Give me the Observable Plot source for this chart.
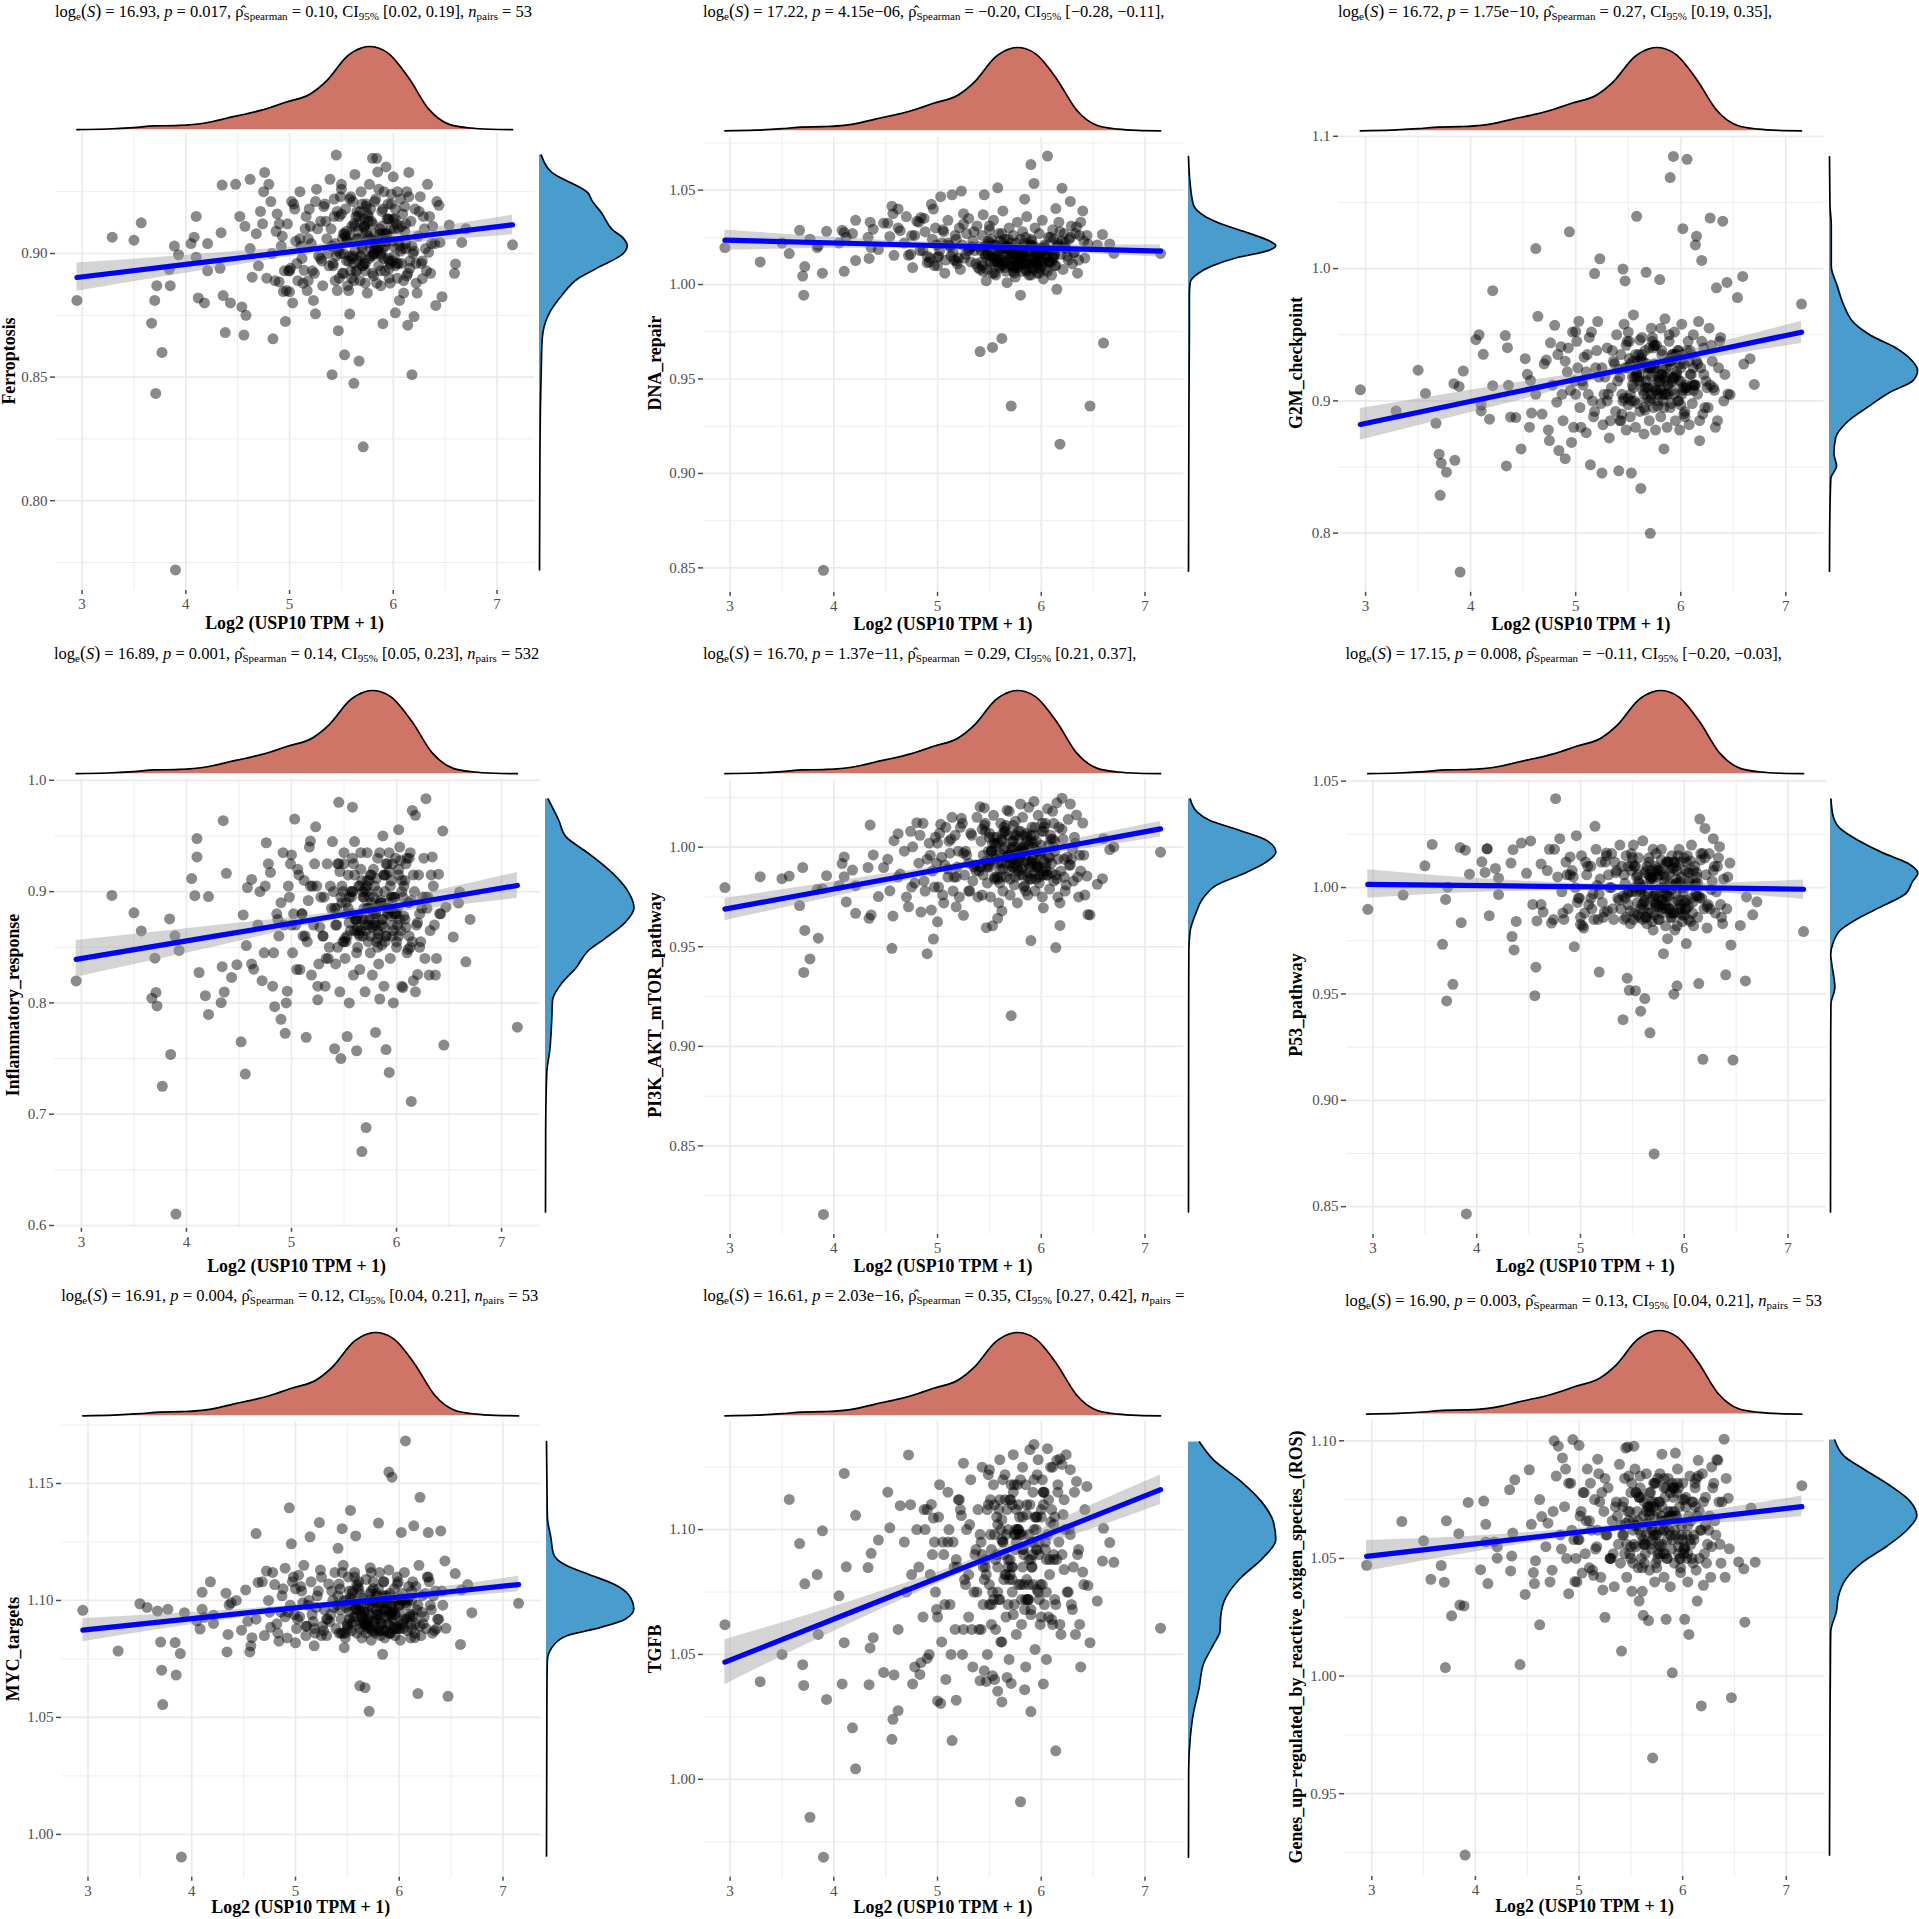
<!DOCTYPE html>
<html>
<head>
<meta charset="utf-8">
<script src="https://cdn.jsdelivr.net/npm/d3@7"></script>
<script src="https://cdn.jsdelivr.net/npm/@observablehq/plot@0.6"></script>
<style>
  body { margin: 0; background: #fff; }
  #page { position: relative; width: 1919px; height: 1919px; overflow: hidden; font-family: "Liberation Serif", serif; color: #000; }
  .ttl { position: absolute; white-space: nowrap; font-size: 16.5px; line-height: 1; transform: translateY(-50%); }
  .ttl sub { font-size: 11px; vertical-align: -3px; line-height: 0; }
  .ttl .par { font-size: 18px; line-height: 0; }
  .axt { position: absolute; white-space: nowrap; font-weight: bold; font-size: 17.9px; line-height: 1; }
</style>
</head>
<body>
<div id="page"></div>
<script>
const names = ["Ferroptosis", "DNA_repair", "G2M_checkpoint", "Inflammatory_response", "PI3K_AKT_mTOR_pathway", "P53_pathway", "MYC_targets", "TGFB", "Genes_up−regulated_by_reactive_oxigen_species_(ROS)"];
const logS = ["16.93", "17.22", "16.72", "16.89", "16.70", "17.15", "16.91", "16.61", "16.90"];
const pval = ["0.017", "4.15e−06", "1.75e−10", "0.001", "1.37e−11", "0.008", "0.004", "2.03e−16", "0.003"];
const rho = ["0.10", "−0.20", "0.27", "0.14", "0.29", "−0.11", "0.12", "0.35", "0.13"];
const rhoCI = ["[0.02, 0.19]", "[−0.28, −0.11]", "[0.19, 0.35]", "[0.05, 0.23]", "[0.21, 0.37]", "[−0.20, −0.03]", "[0.04, 0.21]", "[0.27, 0.42]", "[0.04, 0.21]"];
const npairs = ["= 53", null, null, "= 532", null, null, "= 53", "=", "= 53"];

const xTicks = [3, 4, 5, 6, 7];
const xMinor = [3.5, 4.5, 5.5, 6.5];
const yTicks = [[0.8, 0.85, 0.9], [0.85, 0.9, 0.95, 1, 1.05], [0.8, 0.9, 1, 1.1], [0.6, 0.7, 0.8, 0.9, 1], [0.85, 0.9, 0.95, 1], [0.85, 0.9, 0.95, 1, 1.05], [1, 1.05, 1.1, 1.15], [1, 1.05, 1.1], [0.95, 1, 1.05, 1.1]];
const yMinor = [[0.775, 0.825, 0.875, 0.925], [0.875, 0.925, 0.975, 1.025, 1.075], [0.85, 0.95, 1.05], [0.65, 0.75, 0.85, 0.95], [0.825, 0.875, 0.925, 0.975, 1.025], [0.875, 0.925, 0.975, 1.025], [1.025, 1.075, 1.125, 1.175], [0.975, 1.025, 1.075, 1.125], [0.925, 0.975, 1.025, 1.075]];
const yFormat = [".2f", ".2f", ".1f", ".1f", ".2f", ".2f", ".2f", ".2f", ".2f"];

// USP10 expression, same samples in every panel
const usp10 = [
2.95,3.29,3.50,3.57,3.67,3.70,3.71,3.72,3.77,3.84,3.85,3.89,3.90,3.93,4.05,4.08,4.10,4.10,4.12,4.18,
4.21,4.21,4.33,4.34,4.35,4.36,4.38,4.43,4.48,4.52,4.54,4.56,4.57,4.58,4.62,4.64,4.72,4.76,4.80,4.84,
4.90,4.94,4.96,5.00,5.03,5.14,5.18,5.23,5.25,5.41,5.45,5.47,5.53,5.58,5.62,5.67,5.71,5.80,5.84,5.90,
5.93,6.02,6.06,6.14,6.15,6.18,6.20,6.28,6.34,6.40,6.44,6.45,6.47,6.54,6.59,6.60,6.66,6.70,7.15,
4.62,4.68,4.70,4.74,4.78,4.82,4.86,4.88,4.92,4.95,4.98,5.01,5.04,5.06,5.08,5.10,5.12,5.15,5.17,5.19,
5.21,5.24,5.26,5.28,5.30,5.32,5.34,5.36,5.38,5.39,5.40,5.42,5.43,5.44,5.46,5.48,5.49,5.50,5.51,5.52,
5.54,5.55,5.56,5.57,5.59,5.60,5.61,5.63,5.64,5.65,5.66,5.68,5.69,5.70,5.72,5.73,5.74,5.75,5.76,5.77,
5.78,5.79,5.81,5.82,5.83,5.85,5.86,5.87,5.88,5.89,5.90,5.91,5.92,5.94,5.95,5.96,5.97,5.98,5.99,6.00,
6.01,6.03,6.04,6.05,6.07,6.08,6.09,6.10,6.11,6.12,6.13,6.16,6.17,6.19,6.21,6.22,6.24,6.26,6.27,6.30,
6.32,6.35,6.37,6.42,5.45,5.50,5.55,5.60,5.65,5.70,5.75,5.80,5.85,5.90,5.95,6.00,6.05,5.62,5.72,5.82,
5.92,6.02,5.68,5.78,5.30,5.20,5.10,5.00,4.90,5.88,5.74,5.58,5.96,6.12,6.22,
5.42,5.47,5.52,5.57,5.62,5.67,5.72,5.77,5.82,5.87,5.92,5.97,6.02,6.07,6.12,5.44,5.49,5.54,5.59,5.64,
5.69,5.74,5.79,5.84,5.89,5.94,5.99,6.04,6.09,6.14,5.46,5.51,5.56,5.61,5.66,5.71,5.76,5.81,5.86,5.91,
5.96,6.01,6.06,6.11,6.16,5.43,5.48,5.53,5.58,5.63,5.68,5.73,5.78,5.83,5.88,5.93,5.98,6.03,6.08,6.13,
5.41,5.50,5.60,5.70,5.80,5.90,6.00,6.10,6.20,6.25,5.33,5.37,5.27,5.22,5.16,5.11,5.07,5.02,4.97,4.93,
5.35,5.31,5.25,5.18,5.13,5.05,4.99,4.87,4.83,4.75,6.23,6.29,6.31,6.33,6.36,6.38,6.41,6.18,6.15,6.28,
5.55,5.65,5.75,5.85,5.95,6.05,5.63,5.73,5.83,5.93,5.52,5.62,5.72,5.82,5.92,6.02,5.68,5.78,5.88,5.98,
5.58,5.66,5.76,5.86,5.96,5.72,5.82,5.90,5.80,5.70];

const ferroptosis = [
.881,.9066,.9054,.9124,.8718,.881,.8434,.887,.860,.8936,.887,.903,.772,.8995,.904,.9066,.8985,.915,.882,.880,
.893,.904,.894,.9084,.9277,.883,.868,.880,.928,.915,.8784,.867,.911,.875,.930,.8904,.917,.9328,.928,.8655,
.8885,.8846,.8725,.8845,.880,.8932,.889,.881,.8756,.851,.9398,.8688,.859,.8755,.8475,.8565,.8218,.9385,.9385,.8716,
.935,.876,.881,.871,.9328,.851,.8745,.8898,.9005,.904,.9195,.9045,.8825,.9115,.892,.8958,.9045,.910,.9035,
.902,.908,.895,.912,.890,.921,.889,.916,.903,.893,.912,.894,.920,.905,.889,.925,.898,.910,.885,.918,
.904,.892,.926,.899,.913,.887,.920,.906,.895,.930,.910,.896,.922,.904,.885,.915,.900,.928,.892,.908,
.918,.897,.905,.885,.923,.911,.899,.932,.893,.906,.915,.889,.925,.902,.910,.896,.919,.884,.907,.928,
.899,.913,.891,.921,.905,.933,.895,.910,.887,.917,.902,.925,.893,.908,.914,.897,.888,.920,.905,.931,
.899,.912,.890,.905,.922,.896,.916,.884,.909,.902,.925,.894,.913,.900,.918,.888,.907,.923,.896,.910,
.893,.915,.904,.921,.899,.926,.905,.890,.917,.903,.906,.912,.901,.908,.898,.903,.910,.896,.914,.900,
.908,.895,.917,.902,.898,.911,.906,.893,.912,.900,.909,.899,.914,.904,.896,.895,.901,.892,.897,.889,
.906,.911,.898,.902,.908,
.905,.896,.918,.901,.912,.889,.923,.907,.893,.915,.899,.920,.904,.888,.911,.914,.897,.925,.902,.892,
.917,.906,.887,.921,.909,.895,.913,.900,.926,.898,.894,.910,.903,.919,.897,.915,.890,.908,.922,.901,
.913,.893,.918,.905,.899,.908,.924,.896,.911,.891,.903,.916,.898,.920,.892,.906,.914,.889,.901,.917,
.919,.900,.910,.893,.915,.903,.896,.921,.885,.907,.913,.897,.921,.906,.888,.918,.893,.909,.900,.925,
.884,.915,.902,.928,.892,.911,.879,.903,.923,.897,.909,.893,.916,.902,.920,.896,.911,.888,.922,.905,
.900,.912,.896,.908,.903,.914,.899,.906,.893,.910,.907,.897,.915,.902,.890,.911,.904,.918,.899,.895,
.909,.901,.913,.894,.906,.898,.910,.902,.916,.892];

const dnaRepair = [
1.0196,1.012,1.022,1.0164,1.0287,1.0045,.9944,1.0095,1.024,1.0196,1.0207,1.006,.8487,1.0282,1.022,1.0287,1.007,1.0276,1.025,1.027,
1.034,1.0127,1.025,1.0138,1.033,1.0196,1.0293,1.0185,1.0325,1.0325,1.0255,1.0415,1.0375,1.0155,1.04,1.0285,1.0155,1.009,1.0335,1.0355,
1.0115,1.0425,1.04,1.0145,1.0465,1.0475,1.0125,1.0495,1.0375,.9645,1.0475,1.002,.9667,1.0512,.9715,1.001,.9357,.9944,1.0452,1.0635,
1.0535,1.003,1.068,1.0402,.9975,.9155,1.051,1.044,1.0305,1.039,1.026,1.0215,.9357,1.021,1.0265,.969,1.0215,1.0165,1.0165,
1.030,1.022,1.036,1.016,1.026,1.033,1.018,1.028,1.012,1.024,1.030,1.015,1.022,1.028,1.013,1.034,1.020,1.017,1.026,1.011,
1.030,1.021,1.014,1.027,1.035,1.012,1.023,1.018,1.031,1.009,1.020,1.012,1.026,1.037,1.015,1.008,1.023,1.029,1.011,1.017,
1.034,1.006,1.021,1.013,1.027,1.009,1.018,1.039,1.012,1.024,1.007,1.020,1.030,1.014,1.010,1.026,1.017,1.004,1.022,1.033,
1.012,1.019,1.007,1.028,1.015,1.011,1.036,1.021,1.005,1.017,1.024,1.009,1.014,1.030,1.019,1.006,1.012,1.027,1.016,1.010,
1.034,1.021,1.008,1.015,1.025,1.012,1.018,1.005,1.029,1.014,1.010,1.022,1.033,1.016,1.008,1.027,1.019,1.013,1.024,1.011,
1.017,1.006,1.026,1.014,1.020,1.031,1.012,1.023,1.009,1.018,1.015,1.024,1.008,1.021,1.016,1.013,1.019,1.011,1.017,1.014,
1.020,1.012,1.016,1.009,1.018,1.014,1.022,1.010,1.015,1.019,1.013,1.017,1.011,1.016,1.020,1.018,1.021,1.024,1.015,1.027,
1.012,1.016,1.010,1.018,1.014,
1.014,1.009,1.019,1.012,1.024,1.007,1.016,1.021,1.010,1.013,1.018,1.006,1.015,1.022,1.011,1.020,1.008,1.014,1.025,1.010,
1.016,1.012,1.005,1.019,1.013,1.022,1.009,1.017,1.011,1.023,1.011,1.018,1.007,1.014,1.021,1.010,1.016,1.006,1.013,1.019,
1.024,1.009,1.015,1.011,1.018,1.013,1.006,1.020,1.012,1.016,1.008,1.022,1.014,1.010,1.017,1.005,1.019,1.012,1.023,1.015,
1.020,1.011,1.016,1.008,1.013,1.021,1.006,1.018,1.010,1.014,1.028,1.019,1.032,1.024,1.015,1.029,1.021,1.035,1.018,1.026,
1.022,1.031,1.017,1.027,1.013,1.033,1.023,1.028,1.020,1.025,1.014,1.020,1.009,1.025,1.012,1.018,1.022,1.007,1.016,1.011,
1.015,1.010,1.018,1.013,1.008,1.016,1.020,1.012,1.009,1.017,1.012,1.019,1.014,1.007,1.016,1.010,1.015,1.021,1.011,1.018,
1.013,1.009,1.017,1.012,1.015,1.010,1.019,1.014,1.008,1.016];

const g2m = [
.9084,.8924,.9232,.9056,.8831,.8597,.8286,.8529,.8461,.913,.8551,.9109,.7706,.9226,.9463,.95,.8924,.897,.9352,.8862,
.9833,.9115,.9494,.8508,.9402,.9118,.8878,.8874,.8637,.9319,.9201,.8801,.9155,.8908,1.0151,.9639,.9309,.9439,.9571,.8625,
.8563,1.0278,.8686,.9525,.9602,.8517,.9963,1.0074,.8455,.8471,.9997,.9907,.8455,1.0395,.8338,.9972,.7999,.9917,.8637,1.0688,
1.0848,1.0302,1.0826,1.0179,1.0244,.8699,1.0062,1.0382,.9855,1.0358,.9895,.9053,.9047,.9781,.9941,.9278,.9319,.9124,.9732,
.905,.890,.928,.878,.912,.899,.941,.885,.922,.908,.880,.945,.895,.915,.933,.876,.905,.952,.888,.925,
.960,.898,.882,.918,.940,.872,.910,.930,.892,.950,.915,.885,.935,.905,.958,.878,.925,.897,.945,.888,
.912,.965,.900,.880,.930,.918,.892,.948,.908,.875,.938,.902,.920,.885,.955,.910,.895,.928,.878,.942,
.905,.918,.888,.935,.900,.962,.925,.880,.912,.945,.895,.930,.908,.952,.885,.922,.938,.900,.878,.915,
.958,.928,.892,.910,.945,.882,.920,.935,.898,.950,.912,.905,.960,.925,.890,.940,.915,.895,.955,.930,
.908,.885,.945,.920,.900,.952,.910,.935,.895,.925,.942,.915,.905,.930,.918,.925,.910,.932,.902,.920,
.935,.908,.928,.915,.900,.938,.922,.905,.930,.912,.925,.918,.935,.908,.920,.918,.925,.905,.935,.930,
.915,.925,.908,.938,.920,
.915,.900,.935,.908,.925,.890,.945,.918,.898,.930,.910,.940,.920,.895,.950,.905,.928,.888,.938,.912,
.902,.932,.918,.946,.893,.925,.908,.955,.915,.898,.920,.905,.938,.912,.928,.885,.942,.900,.922,.935,
.910,.948,.896,.926,.905,.917,.938,.890,.930,.912,.924,.902,.915,.940,.908,.932,.897,.920,.945,.910,
.885,.928,.905,.918,.900,.935,.912,.925,.952,.940,.938,.905,.925,.892,.948,.880,.915,.905,.935,.870,
.895,.942,.910,.880,.925,.948,.900,.885,.930,.912,.930,.905,.942,.918,.935,.912,.925,.945,.905,.918,
.928,.915,.905,.920,.935,.910,.925,.900,.930,.915,.920,.910,.925,.905,.932,.918,.908,.927,.915,.900,
.912,.922,.905,.930,.915,.925,.910,.920,.935,.918];

const inflammatory = [
.8197,.8966,.8809,.8647,.8042,.8402,.8094,.7973,.7251,.8754,.7537,.8603,.6103,.8471,.9117,.8963,.9476,.9311,.8273,.8065,
.7896,.8955,.8002,.8325,.9637,.8098,.9164,.8229,.8343,.765,.879,.7361,.8515,.9036,.9109,.8303,.82,.9439,.9172,.7966,
.7852,.7727,.8105,.9329,.9652,.7691,.9454,.9582,.8028,.7588,.9802,.75,.7698,.9758,.757,.6664,.688,.7735,.8035,.7581,
.7375,.9556,.8138,.7115,.9729,.9685,.8255,.9835,.9311,.9157,.9545,.7621,.886,.8592,.8897,.8996,.8369,.875,.7782,
.835,.870,.900,.845,.925,.815,.880,.860,.935,.800,.895,.845,.870,.920,.830,.880,.910,.855,.940,.825,
.870,.905,.835,.895,.860,.815,.925,.850,.885,.945,.900,.835,.870,.925,.810,.890,.855,.935,.840,.880,
.915,.800,.865,.895,.825,.945,.875,.850,.905,.830,.920,.860,.885,.810,.935,.870,.895,.845,.915,.825,
.880,.905,.855,.930,.835,.890,.870,.950,.815,.900,.860,.925,.880,.840,.910,.870,.800,.895,.930,.850,
.885,.940,.865,.815,.905,.875,.925,.845,.890,.860,.935,.820,.900,.870,.915,.850,.885,.930,.840,.895,
.865,.905,.825,.880,.925,.855,.895,.915,.860,.875,.915,.870,.890,.860,.895,.880,.910,.865,.900,.850,
.885,.920,.875,.895,.860,.905,.880,.870,.890,.915,.875,.900,.860,.890,.880,.870,.895,.855,.880,.845,
.910,.885,.868,.900,.875,
.890,.865,.915,.878,.930,.850,.900,.885,.925,.862,.895,.910,.872,.935,.855,.905,.880,.928,.868,.892,
.918,.858,.900,.875,.935,.865,.890,.912,.852,.882,.925,.870,.895,.848,.915,.885,.905,.860,.930,.878,
.900,.855,.920,.888,.868,.935,.895,.875,.910,.850,.885,.925,.865,.902,.880,.915,.855,.930,.872,.895,
.840,.905,.868,.925,.892,.860,.915,.880,.905,.870,.840,.895,.815,.905,.860,.830,.925,.875,.845,.905,
.855,.885,.825,.915,.870,.840,.880,.810,.855,.895,.872,.905,.860,.892,.878,.900,.868,.885,.862,.918,
.890,.875,.905,.865,.885,.860,.895,.870,.915,.880,.900,.865,.885,.875,.895,.910,.858,.925,.882,.870,
.892,.878,.905,.862,.888,.895,.868,.900,.880,.872];

const pi3k = [
.9797,.9852,.9842,.9855,.9707,.9898,.9371,.9582,.9439,.9787,.9543,.9791,.8156,.9857,.9807,.9918,.9951,.9852,.9725,.9885,
.9668,.9807,.9898,.9643,1.0111,.966,.9961,.9752,.9898,.9939,.9781,.9492,.9654,1.0033,1.0068,.9865,.9701,1.0002,1.0123,.9674,
.9465,.9684,.9539,.9625,1.0115,1.015,.9701,1.0145,.9658,1.0203,1.0197,.9596,.9605,.9643,.968,1.0186,.9154,1.0217,.9807,.9531,
1.023,.9695,1.0193,.9496,1.0223,.9607,1.0246,1.0217,1.0162,1.0121,.9855,.9662,.966,.9814,.9842,1.0043,.9988,1.0002,.9975,
.985,.998,.975,1.008,.982,.992,1.012,.978,1.002,.988,1.005,.980,.995,.972,1.010,.985,.997,.978,1.006,.990,
.975,1.012,.986,.996,.978,1.007,.983,.991,1.015,.975,.988,1.003,.976,.996,1.012,.982,.991,1.007,.975,.998,
1.016,.984,.994,1.005,.972,.989,1.012,.978,.999,1.008,.985,.995,1.018,.976,1.003,.990,.981,1.013,.995,.972,
1.008,.986,.998,1.015,.980,.993,1.005,.976,1.020,.990,.984,1.010,.996,.978,1.003,.990,1.016,.982,.996,1.008,
.975,.993,1.012,.986,1.001,.979,1.006,.992,1.018,.983,.998,.975,1.010,.988,1.004,.994,.981,1.014,.991,.999,
1.005,.985,.996,.976,1.011,.990,1.002,.982,1.008,.995,.985,.999,.978,1.006,.992,.998,.988,1.003,.994,.990,
1.000,.986,.996,1.004,.992,.998,.989,1.002,.994,.987,1.006,.996,.991,1.000,.985,.990,.993,.998,.985,.992,
.995,1.000,.990,.999,.985,
1.002,.990,1.008,.995,1.012,.986,.998,1.005,.992,1.010,.988,1.000,.994,1.006,.984,1.010,.997,.990,1.004,.986,
1.008,.993,1.001,.985,1.011,.996,1.006,.989,1.003,.992,.998,1.012,.986,1.004,.994,1.009,.990,1.002,.984,1.007,
.996,1.011,.988,1.000,.992,1.006,.986,1.010,.995,1.003,.990,1.005,.997,.984,1.008,.993,1.001,.987,1.009,.995,
1.006,.988,.998,1.010,.985,1.003,.991,1.007,.980,.996,.990,.978,.997,.985,1.004,.976,.992,.983,1.006,.980,
.978,.994,.983,1.002,.975,.988,.996,.972,.984,.991,.985,1.000,.991,.996,.984,.992,.989,1.003,.998,.987,
.998,1.004,.990,1.000,.994,.988,1.006,.993,1.001,.985,1.002,.992,.997,1.007,.990,.999,.986,1.003,.995,.992,
.994,1.000,.988,1.005,.996,.992,1.001,.998,.990,.986];

const p53 = [
.9898,.9965,1.0102,1.0203,.9733,.9944,.9467,1.0002,.9545,1.0188,.9835,1.0176,.8466,1.0063,1.0121,1.0071,1.0182,1.0182,.9868,1.009,
.9967,1.0044,1.0115,.977,1.0178,.9707,.9841,1.0209,1.0067,1.0219,.9921,.9492,.9626,.9843,1.0111,.9885,.9833,1.0418,1.023,.985,
1.0144,.9722,1.0244,.9827,.981,1.0288,.9603,.9885,1.0163,.9379,.9574,.9517,.9515,.9419,.9478,.9317,.8748,.9689,.976,.9499,
.9538,.9737,1.0125,.9549,1.0322,.9193,1.0278,1.023,1.0192,.959,1.0115,.973,.9189,.9822,.9561,.9956,.9872,.9933,.9793,
.992,1.008,1.018,.985,1.005,.998,1.012,.990,1.008,1.000,.995,1.015,.988,1.006,.992,1.010,.997,1.018,.985,1.004,
.993,1.012,.989,1.000,1.016,.985,1.007,.995,1.020,.990,1.010,.985,1.002,1.015,.992,.983,1.008,.998,1.020,.988,
1.005,.993,1.014,.986,1.000,1.022,.990,1.008,.983,.997,1.012,.988,1.005,.980,.996,1.016,.992,1.008,.985,1.000,
1.018,.990,1.003,.982,1.012,.996,1.007,.986,1.015,.993,1.001,.980,1.010,.994,1.018,.988,1.005,.984,.998,1.014,
.990,1.007,.985,1.002,1.020,.993,.982,1.010,.997,1.005,.986,1.013,.995,.990,1.006,.981,1.016,.999,1.003,.988,
1.010,.992,.983,1.005,.997,1.014,.987,1.001,.992,1.018,.985,1.006,.990,1.012,1.002,.993,1.007,.996,1.010,.990,
1.004,.994,1.008,.988,1.000,1.012,.995,.986,1.006,.999,1.009,.990,1.003,.996,.991,1.006,.998,1.010,1.002,.994,
1.004,.997,1.008,.992,.988,
1.002,.990,1.012,.995,1.007,.986,1.016,.998,.992,1.010,.984,1.005,.994,1.012,.988,1.015,1.000,.991,1.008,.996,
1.010,.985,1.003,.993,1.014,.987,1.006,.997,.990,1.012,.992,1.008,.984,1.002,1.016,.995,.989,1.010,.999,.986,
1.005,.991,1.013,.997,.986,1.008,.994,1.015,.988,1.002,.996,1.011,.985,1.004,.992,1.009,.987,1.001,1.014,.990,
1.012,.994,1.006,.986,1.001,.990,1.010,.982,.993,1.005,1.008,.990,1.015,.997,.985,1.012,.995,1.006,.988,1.018,
.992,1.010,.998,1.014,.986,1.004,.990,1.016,.995,1.008,1.006,.988,.995,1.012,.990,1.003,.986,1.008,.996,.982,
1.000,1.007,.992,1.011,.997,.990,1.004,.994,1.009,.987,.998,1.006,.991,1.002,1.012,.993,1.005,.988,1.000,.996,
1.003,.994,1.008,.990,1.001,.997,.992,1.006,.999,1.004];

const myc = [
1.0958,1.0784,1.0986,1.097,1.0955,1.0822,1.0702,1.0555,1.0962,1.082,1.0681,1.0773,.9903,1.0948,1.0913,1.0878,1.1035,1.0962,1.0928,1.108,
1.0902,1.0937,1.1031,1.078,1.0855,1.0981,1.099,1.1,1.0873,1.1045,1.0911,1.078,1.0806,1.0841,1.1286,1.1077,1.1126,1.0885,1.1068,1.0826,
1.1138,1.1396,1.1242,1.0819,1.1108,1.1272,1.0806,1.1333,1.085,1.1223,1.1307,1.0798,1.1385,1.1276,1.0635,1.0627,1.0526,1.1331,1.077,1.1549,
1.1527,1.1291,1.1682,1.1319,1.0841,1.0602,1.1441,1.129,1.0871,1.1297,1.1169,1.0881,1.059,1.1115,1.0812,1.1045,1.1068,1.0948,1.0988,
1.092,1.108,1.085,1.100,1.112,1.090,1.095,1.105,1.084,1.098,1.110,1.088,1.093,1.104,1.115,1.085,1.098,1.108,1.091,1.086,
1.102,1.113,1.089,1.096,1.085,1.107,1.094,1.100,1.112,1.088,1.098,1.086,1.105,1.092,1.115,1.084,1.100,1.090,1.110,1.095,
1.087,1.104,1.093,1.112,1.086,1.098,1.108,1.090,1.084,1.101,1.095,1.109,1.088,1.100,1.114,1.083,1.097,1.105,1.091,1.086,
1.103,1.094,1.112,1.087,1.099,1.108,1.084,1.096,1.102,1.090,1.113,1.086,1.098,1.092,1.105,1.085,1.100,1.110,1.088,1.095,
1.083,1.103,1.091,1.112,1.098,1.087,1.106,1.094,1.084,1.100,1.108,1.090,1.096,1.115,1.085,1.102,1.093,1.088,1.110,1.098,
1.086,1.104,1.092,1.098,1.112,1.089,1.100,1.106,1.090,1.095,1.100,1.087,1.108,1.094,1.090,1.098,1.092,1.103,1.088,1.096,
1.094,1.100,1.086,1.102,1.092,1.097,1.089,1.105,1.093,1.099,1.091,1.096,1.101,1.088,1.095,1.107,1.100,1.104,1.110,1.096,
1.090,1.094,1.099,1.085,1.102,
1.095,1.088,1.100,1.092,1.104,1.086,1.097,1.090,1.107,1.093,1.099,1.087,1.094,1.102,1.090,1.096,1.108,1.088,1.101,1.093,
1.086,1.098,1.091,1.105,1.095,1.089,1.100,1.092,1.087,1.103,1.094,1.088,1.099,1.090,1.106,1.096,1.086,1.101,1.093,1.097,
1.089,1.104,1.092,1.098,1.087,1.095,1.107,1.090,1.100,1.094,1.102,1.088,1.096,1.091,1.105,1.086,1.098,1.093,1.089,1.103,
1.091,1.097,1.087,1.104,1.094,1.089,1.099,1.092,1.108,1.095,1.104,1.092,1.110,1.088,1.100,1.106,1.094,1.102,1.086,1.095,
1.090,1.108,1.096,1.102,1.088,1.092,1.104,1.098,1.086,1.110,1.103,1.092,1.108,1.096,1.088,1.100,1.094,1.112,1.090,1.098,
1.092,1.088,1.098,1.094,1.086,1.101,1.090,1.096,1.093,1.089,1.097,1.091,1.087,1.099,1.094,1.103,1.090,1.095,1.088,1.092,
1.094,1.090,1.096,1.087,1.092,1.098,1.089,1.095,1.091,1.093];

const tgfb = [
1.0619,1.0391,1.05,1.1121,1.0944,1.0459,1.0376,1.0783,.9848,1.082,1.058,1.0995,.9688,1.032,1.0735,1.0382,1.0547,1.1225,1.0851,1.0206,
1.0042,1.1057,1.0848,1.0379,1.0526,1.0905,1.0567,1.0958,1.0428,1.115,1.1007,1.016,1.024,1.0418,1.0275,1.1096,1.1299,1.0382,1.1,1.0467,
1.0484,1.1101,1.1046,1.0314,1.0304,1.0155,1.0317,1.1056,1.1266,1.0395,1.0435,1.0392,1.0415,1.0353,1.031,1.0408,1.0384,.991,1.0359,1.0271,
1.1341,1.0382,1.1324,1.0114,1.1278,1.1283,1.1261,1.124,1.1193,1.083,1.1173,1.0776,1.0547,1.0714,1.0874,1.1005,1.0948,1.0869,1.0605,
1.060,1.095,1.075,1.110,1.045,1.085,1.065,1.100,1.050,1.090,1.075,1.105,1.055,1.090,1.040,1.115,1.070,1.095,1.060,1.085,
1.112,1.050,1.080,1.100,1.065,1.120,1.045,1.090,1.075,1.108,1.060,1.095,1.125,1.070,1.085,1.050,1.110,1.078,1.098,1.062,
1.118,1.040,1.088,1.105,1.072,1.128,1.055,1.095,1.080,1.122,1.065,1.100,1.048,1.112,1.085,1.130,1.070,1.092,1.058,1.118,
1.078,1.105,1.062,1.125,1.090,1.045,1.110,1.072,1.098,1.132,1.066,1.085,1.115,1.052,1.100,1.076,1.128,1.090,1.062,1.108,
1.120,1.070,1.095,1.048,1.112,1.082,1.103,1.064,1.125,1.088,1.072,1.118,1.095,1.058,1.106,1.084,1.130,1.075,1.100,1.068,
1.115,1.090,1.062,1.108,1.080,1.124,1.098,1.072,1.112,1.088,1.100,1.078,1.118,1.068,1.092,1.105,1.075,1.096,1.110,1.085,
1.090,1.115,1.070,1.100,1.082,1.112,1.095,1.065,1.108,1.088,1.098,1.075,1.105,1.090,1.112,1.060,1.082,1.070,1.090,1.055,
1.108,1.080,1.100,1.092,1.072,
1.095,1.075,1.115,1.065,1.102,1.085,1.122,1.072,1.108,1.090,1.080,1.118,1.098,1.068,1.110,1.105,1.078,1.092,1.125,1.070,
1.088,1.112,1.060,1.100,1.082,1.118,1.095,1.072,1.106,1.085,1.122,1.078,1.098,1.062,1.115,1.090,1.108,1.075,1.102,1.120,
1.085,1.066,1.110,1.092,1.078,1.100,1.072,1.115,1.088,1.105,1.098,1.070,1.112,1.082,1.120,1.095,1.065,1.108,1.090,1.075,
1.060,1.092,1.078,1.108,1.085,1.100,1.070,1.118,1.095,1.082,1.075,1.102,1.060,1.088,1.050,1.095,1.068,1.108,1.042,1.082,
1.100,1.070,1.085,1.058,1.092,1.045,1.078,1.062,1.088,1.098,1.110,1.082,1.098,1.072,1.105,1.088,1.095,1.115,1.078,1.120,
1.092,1.104,1.085,1.098,1.078,1.110,1.088,1.100,1.072,1.095,1.085,1.098,1.108,1.080,1.092,1.075,1.105,1.088,1.098,1.112,
1.095,1.082,1.100,1.090,1.078,1.105,1.088,1.095,1.102,1.085];

const ros = [
1.0471,1.0657,1.0575,1.0411,1.047,1.0399,1.0036,1.066,1.0256,1.0605,1.0302,1.0298,.9239,1.0738,1.0452,1.0744,1.057,1.0645,1.0393,1.057,
1.0549,1.0501,1.0792,1.0447,1.051,1.0608,1.0834,1.0049,1.0347,1.0877,1.0645,1.044,1.0393,1.049,1.0218,1.0678,1.04,1.1,1.0977,1.0927,
1.035,1.1005,1.0402,1.0981,1.0438,1.0428,1.0922,1.0366,1.025,1.0106,1.0969,1.0974,1.0977,1.0319,1.0258,1.0236,.9652,1.0943,1.0241,1.0014,
1.0948,1.0241,1.0177,1.0319,1.0917,.9873,1.0386,1.0889,1.0917,1.1007,1.0756,1.0541,.9908,1.0485,1.0456,1.0229,1.0714,1.0484,1.0809,
1.075,1.055,1.065,1.045,1.085,1.060,1.072,1.050,1.082,1.058,1.040,1.068,1.078,1.052,1.088,1.046,1.062,1.075,1.055,1.086,
1.042,1.070,1.060,1.080,1.050,1.066,1.038,1.074,1.056,1.090,1.048,1.072,1.060,1.084,1.042,1.066,1.052,1.078,1.036,1.062,
1.088,1.055,1.070,1.046,1.080,1.060,1.036,1.074,1.052,1.086,1.065,1.045,1.078,1.056,1.068,1.040,1.082,1.060,1.050,1.074,
1.086,1.055,1.066,1.042,1.076,1.050,1.084,1.062,1.038,1.070,1.058,1.080,1.048,1.068,1.088,1.055,1.072,1.044,1.064,1.082,
1.052,1.076,1.060,1.040,1.085,1.066,1.050,1.074,1.058,1.080,1.045,1.070,1.062,1.086,1.052,1.076,1.056,1.068,1.042,1.082,
1.060,1.074,1.048,1.084,1.065,1.055,1.078,1.050,1.070,1.062,1.046,1.072,1.058,1.080,1.066,1.075,1.052,1.068,1.060,1.084,
1.070,1.055,1.078,1.062,1.050,1.074,1.066,1.058,1.082,1.068,1.060,1.076,1.052,1.072,1.064,1.060,1.070,1.048,1.066,1.058,
1.072,1.062,1.056,1.080,1.068,
1.062,1.050,1.075,1.058,1.082,1.052,1.070,1.064,1.085,1.056,1.072,1.048,1.066,1.080,1.054,1.078,1.060,1.050,1.074,1.068,
1.056,1.082,1.064,1.046,1.072,1.058,1.084,1.052,1.066,1.076,1.080,1.054,1.068,1.060,1.050,1.074,1.085,1.056,1.062,1.048,
1.070,1.082,1.052,1.066,1.078,1.060,1.046,1.072,1.056,1.084,1.064,1.050,1.076,1.054,1.068,1.082,1.058,1.048,1.074,1.062,
1.052,1.068,1.060,1.078,1.054,1.082,1.066,1.070,1.050,1.062,1.072,1.050,1.084,1.062,1.045,1.078,1.058,1.088,1.054,1.070,
1.048,1.080,1.066,1.092,1.056,1.074,1.042,1.062,1.085,1.055,1.078,1.060,1.070,1.050,1.082,1.064,1.056,1.074,1.052,1.068,
1.066,1.056,1.072,1.062,1.080,1.054,1.068,1.074,1.060,1.050,1.076,1.064,1.052,1.070,1.058,1.082,1.062,1.068,1.056,1.074,
1.060,1.072,1.054,1.066,1.080,1.062,1.056,1.070,1.064,1.052];

const scores = [ferroptosis, dnaRepair, g2m, inflammatory, pi3k, p53, myc, tgfb, ros];

// linear fit and its ribbon, read at these x positions
const fitX = [2.95, 4.3, 5.6, 6.4, 7.15];
const fitY = [[.8903,.8971,.9037,.9078,.9116],[1.0235,1.0216,1.0198,1.0187,1.0177],[.8822,.9046,.9262,.9394,.9519],[.8391,.8604,.881,.8936,.9055],[.9689,.9819,.9944,1.002,1.0092],[1.0015,1.0008,1.0001,.9997,.9992],[1.0873,1.0936,1.0996,1.1033,1.1068],[1.0469,1.0691,1.0905,1.1036,1.116],[1.0509,1.0577,1.0642,1.0682,1.072]];
const fitLo = [[.8847,.894,.9021,.905,.9076],[1.0181,1.0192,1.0183,1.0165,1.0145],[.8702,.897,.9234,.934,.9433],[.823,.851,.8773,.886,.8938],[.9631,.9785,.9932,.999,1.0051],[.995,.9982,.9988,.9973,.9944],[1.0824,1.0915,1.0986,1.101,1.1037],[1.0379,1.0651,1.0885,1.099,1.1101],[1.0445,1.055,1.0628,1.0652,1.0677]];
const fitHi = [[.8962,.9002,.9053,.9105,.9155],[1.0289,1.024,1.0213,1.0209,1.0209],[.8942,.912,.929,.945,.9602],[.856,.8698,.8847,.9012,.9172],[.9742,.985,.9956,1.005,1.0129],[1.0084,1.0034,1.0014,1.0021,1.0035],[1.0923,1.0957,1.1006,1.1056,1.1103],[1.0559,1.0731,1.0925,1.1082,1.1219],[1.0576,1.0604,1.0656,1.0712,1.0765]];

// marginal density of USP10 (same in all panels), relative height
const topX = [2.95,3.25,3.5,3.7,3.9,4.1,4.25,4.4,4.57,4.73,4.97,5.2,5.36,5.56,5.7,5.77,5.85,5.95,6.15,6.34,6.54,6.74,6.93,7.15];
const topH = [0,.008,.025,.045,.05,.065,.095,.14,.186,.235,.333,.43,.59,.887,.985,1,.985,.92,.62,.25,.064,.02,.005,0];

// marginal density of each score, relative width
const sideV = [
[.772,.8206,.8371,.8536,.8652,.8751,.8833,.8899,.8949,.8998,.9031,.9064,.9097,.9163,.9213,.9246,.9328,.9398],
[.8483,.9345,.9776,.9948,1.0013,1.0056,1.0099,1.0142,1.0181,1.0207,1.0228,1.0272,1.0315,1.0358,1.0422,1.0552,1.0677],
[.7712,.8014,.8415,.8508,.86,.8723,.8847,.897,.9063,.9155,.9232,.9309,.9402,.9494,.9587,.971,.9864,1.0019,1.0327,1.0481,1.0845],
[.6122,.6855,.7368,.7588,.7845,.8028,.8174,.8321,.8468,.8578,.8724,.8853,.9018,.9164,.9347,.9494,.9641,.9831],
[.8168,.9193,.948,.9582,.9664,.9746,.9807,.9869,.992,.9975,1.0033,1.0084,1.0135,1.0176,1.0242],
[.8475,.9242,.9453,.953,.9626,.9684,.9741,.9799,.9856,.9914,.9971,1.0029,1.0067,1.0115,1.0163,1.0221,1.0278,1.0336,1.0416],
[.9908,1.0623,1.0745,1.0798,1.085,1.0885,1.092,1.0963,1.1024,1.1068,1.1112,1.1147,1.1199,1.1269,1.1356,1.1495,1.1679],
[.9688,1.0036,1.0167,1.0265,1.0363,1.0461,1.0542,1.0592,1.0657,1.073,1.0804,1.0886,1.0959,1.1033,1.1114,1.1196,1.1278,1.1351],
[.9239,.9773,1.0033,1.0189,1.0276,1.0336,1.0414,1.0484,1.0553,1.0622,1.0683,1.0744,1.0813,1.0882,1.0934,1.1003]];
const sideW = [
[0,.005,.01,.02,.03,.10,.26,.44,.70,.95,1,.95,.83,.71,.60,.55,.14,.02],
[0,.005,.01,.01,.02,.10,.27,.55,.92,1,.94,.69,.41,.2,.056,.015,0],
[0,.002,.015,.08,.05,.07,.21,.47,.68,.95,1,.93,.75,.47,.28,.17,.09,.02,.02,.005,0],
[0,.002,.014,.05,.07,.08,.18,.35,.48,.67,.90,1,.92,.76,.48,.23,.15,.03],
[0,.002,.004,.02,.08,.17,.31,.64,.87,1,.90,.59,.24,.10,.02],
[0,.002,.005,.05,.02,.002,.03,.11,.32,.60,.86,.94,1,.88,.60,.32,.11,.03,.005],
[0,.005,.01,.06,.24,.62,.90,1,.94,.78,.48,.24,.08,.05,.01,.005,0],
[0,.002,.02,.056,.12,.17,.29,.36,.37,.43,.59,.85,1,.97,.83,.59,.29,.126],
[0,.005,.01,.014,.08,.10,.19,.38,.66,.89,1,.92,.68,.38,.17,.06]];

// page geometry of each panel, in px
const frames = [
  {x3:81.6, x7:496.5, l:55, r:534.5, t:132.6, b:589.6, v1:.9, p1:252.6, v2:.8, p2:499.8, topBase:128.9, topPeak:45.7, sideBase:539.4, sidePeak:627.1, ylx:9.5, yly:361, xlx:294.6, xly:624, tx:55, ty:12},
  {x3:729.8, x7:1144.7, l:703.2, r:1183.5, t:136.7, b:591.6, v1:1.05, p1:189.3, v2:.85, p2:567.1, topBase:130.6, topPeak:47.3, sideBase:1188, sidePeak:1275.3, ylx:655.5, yly:363, xlx:943, xly:625, tx:703, ty:12},
  {x3:1365.1, x7:1785.3, l:1338, r:1823.7, t:136.7, b:591.6, v1:1.1, p1:135.5, v2:.8, p2:532.4, topBase:130.6, topPeak:47.3, sideBase:1829.4, sidePeak:1917.5, ylx:1297.4, yly:363, xlx:1581, xly:625, tx:1338, ty:12},
  {x3:80.8, x7:501, l:53.9, r:539.4, t:778.7, b:1227.5, v1:1, p1:779.5, v2:.6, p2:1224.7, topBase:773, topPeak:689.8, sideBase:544.7, sidePeak:633.2, ylx:13.5, yly:1005, xlx:296.6, xly:1266.5, tx:53.9, ty:654},
  {x3:729.8, x7:1144.7, l:703.2, r:1183.5, t:778.7, b:1233.6, v1:1, p1:846.4, v2:.85, p2:1145.1, topBase:773, topPeak:689.8, sideBase:1188, sidePeak:1275.3, ylx:655.5, yly:1005, xlx:943, xly:1266.5, tx:703, ty:654},
  {x3:1372, x7:1787, l:1345.5, r:1825.7, t:778.7, b:1233.6, v1:1.05, p1:780.4, v2:.85, p2:1205.9, topBase:773, topPeak:689.8, sideBase:1830.2, sidePeak:1917.5, ylx:1297.4, yly:1005, xlx:1585.4, xly:1266.5, tx:1345.5, ty:654},
  {x3:87.7, x7:502.7, l:61.2, r:541.4, t:1420.8, b:1876.5, v1:1.15, p1:1482.8, v2:1, p2:1833.7, topBase:1415.5, topPeak:1332.2, sideBase:545.9, sidePeak:633.2, ylx:13.5, yly:1649, xlx:300.7, xly:1908, tx:61.2, ty:1296},
  {x3:729.8, x7:1144.7, l:703.2, r:1183.5, t:1420.8, b:1876.5, v1:1.1, p1:1528.9, v2:1, p2:1778.6, topBase:1415.5, topPeak:1332.2, sideBase:1188, sidePeak:1275.3, ylx:655.5, yly:1649, xlx:943, xly:1908, tx:703, ty:1296},
  {x3:1371.6, x7:1786.1, l:1344.3, r:1824.9, t:1418.7, b:1875.7, v1:1.1, p1:1440, v2:.95, p2:1792.9, topBase:1413.4, topPeak:1329.8, sideBase:1829.4, sidePeak:1916.7, ylx:1297.4, yly:1647, xlx:1584.6, xly:1907, tx:1345, ty:1301}
];

const page = document.getElementById("page");
const serif = "'Liberation Serif', serif";
const gridColor = "#ebebeb";
const ink = "#4d4d4d";

function place(left, top, extra) {
  return {position: "absolute", left: left + "px", top: top + "px", overflow: "visible", maxWidth: "none", background: "none", fontFamily: serif, ...extra};
}

function addText(cls, html, style) {
  const el = document.createElement("div");
  el.className = cls;
  el.innerHTML = html;
  Object.assign(el.style, style);
  page.appendChild(el);
}

names.forEach((name, i) => {
  const f = frames[i];
  const ml = 50, mr = 2, mb = 34;
  const points = usp10.map((x, k) => ({x, y: scores[i][k]})).filter(d => d.y != null);
  const fit = fitX.map((x, k) => ({x, y: fitY[i][k], lo: fitLo[i][k], hi: fitHi[i][k]}));

  const main = Plot.plot({
    width: ml + f.r - f.l + mr,
    height: f.b - f.t + mb,
    marginLeft: ml, marginRight: mr, marginTop: 0, marginBottom: mb,
    style: place(f.l - ml, f.t),
    x: {axis: null, domain: [3, 7], range: [f.x3 - f.l + ml, f.x7 - f.l + ml]},
    y: {axis: null, domain: [f.v1, f.v2], range: [f.p1 - f.t, f.p2 - f.t]},
    marks: [
      Plot.gridX(xMinor, {stroke: gridColor, strokeOpacity: 1, strokeWidth: 0.9}),
      Plot.gridY(yMinor[i], {stroke: gridColor, strokeOpacity: 1, strokeWidth: 0.9}),
      Plot.gridX(xTicks, {stroke: gridColor, strokeOpacity: 1, strokeWidth: 1.7}),
      Plot.gridY(yTicks[i], {stroke: gridColor, strokeOpacity: 1, strokeWidth: 1.7}),
      Plot.axisX(xTicks, {anchor: "bottom", tickSize: 4, tickPadding: 4, fontSize: 15, color: ink, strokeWidth: 1.5, label: null}),
      Plot.axisY(yTicks[i], {anchor: "left", tickSize: 5, tickPadding: 3, fontSize: 15, color: ink, strokeWidth: 1.5, label: null, tickFormat: d3.format(yFormat[i])}),
      Plot.dot(points, {x: "x", y: "y", r: 5.5, fill: "black", fillOpacity: 0.46, stroke: "none"}),
      Plot.areaY(fit, {x: "x", y1: "lo", y2: "hi", fill: "#999999", fillOpacity: 0.42, curve: "monotone-x"}),
      Plot.lineY(fit, {x: "x", y: "y", stroke: "#0000ff", strokeWidth: 5.2})
    ]
  });
  page.appendChild(main);

  const topData = topX.map((x, k) => ({x, h: topH[k]}));
  const top = Plot.plot({
    width: f.r - f.l,
    height: f.topBase - f.topPeak + 4,
    margin: 0,
    style: place(f.l, f.topPeak - 2),
    x: {axis: null, domain: [3, 7], range: [f.x3 - f.l, f.x7 - f.l]},
    y: {axis: null, domain: [0, 1], range: [f.topBase - f.topPeak + 2, 2]},
    marks: [
      Plot.areaY(topData, {x: "x", y: "h", fill: "#cf7568", curve: "monotone-x"}),
      Plot.lineY(topData, {x: "x", y: "h", stroke: "black", strokeWidth: 1.7, curve: "monotone-x"})
    ]
  });
  page.appendChild(top);

  const sideData = sideV[i].map((v, k) => ({v, w: sideW[i][k]}));
  const side = Plot.plot({
    width: f.sidePeak - f.sideBase + 4,
    height: f.b - f.t,
    margin: 0,
    style: place(f.sideBase - 2, f.t),
    x: {axis: null, domain: [0, 1], range: [2, f.sidePeak - f.sideBase + 2]},
    y: {axis: null, domain: [f.v1, f.v2], range: [f.p1 - f.t, f.p2 - f.t]},
    marks: [
      Plot.areaX(sideData, {x: "w", y: "v", fill: "#499dcd", curve: "monotone-y"}),
      Plot.lineX(sideData, {x: "w", y: "v", stroke: "black", strokeWidth: 1.7, curve: "monotone-y"})
    ]
  });
  page.appendChild(side);

  let title = `log<sub>e</sub><span class="par">(</span><i>S</i><span class="par">)</span> = ${logS[i]}, <i>p</i> = ${pval[i]}, ρ&#770;<sub>Spearman</sub> = ${rho[i]}, CI<sub>95%</sub> ${rhoCI[i]},`;
  if (npairs[i]) title += ` <i>n</i><sub>pairs</sub> ${npairs[i]}`;
  addText("ttl", title, {left: f.tx + "px", top: f.ty + "px"});
  addText("axt", "Log2 (USP10 TPM + 1)", {left: f.xlx + "px", top: f.xly + "px", transform: "translate(-50%,-50%)"});
  addText("axt", name, {left: f.ylx + "px", top: f.yly + "px", transform: "translate(-50%,-50%) rotate(-90deg)"});
});
</script>
</body>
</html>
